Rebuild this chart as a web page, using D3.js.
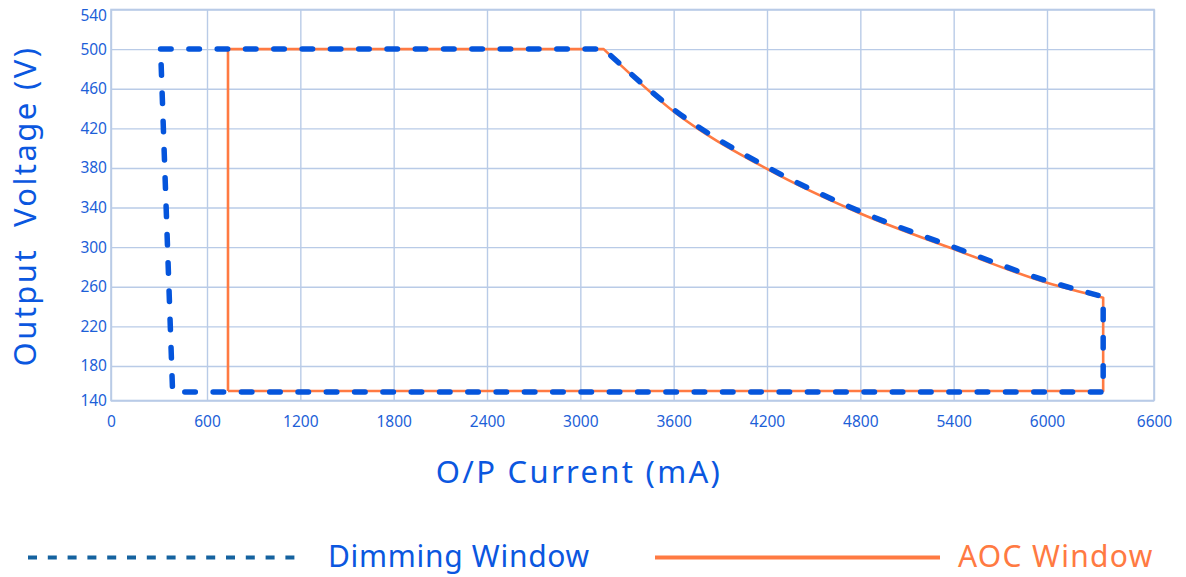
<!doctype html>
<html>
<head>
<meta charset="UTF-8">
<title>Output Voltage vs O/P Current</title>
<script src="https://d3js.org/d3.v7.min.js"></script>
<style>
  body { margin: 0; background: #fff; }
  text { font-family: "Noto Sans", sans-serif; }
</style>
</head>
<body>
<svg id="chart" width="1186" height="577"></svg>
<script>
// tick labels
var xTicks = [0, 600, 1200, 1800, 2400, 3000, 3600, 4200, 4800, 5400, 6000, 6600];
var yTicks = [140, 180, 220, 260, 300, 340, 380, 420, 460, 500, 540];

// Dimming Window (blue dashed): left edge, top, curved part, right edge, bottom
var dimCorners = [[385, 150], [310, 500]];
var dimCurveCurrent = [3150, 3600, 4200, 4800, 5400, 6000, 6315];
var dimCurveVoltage = [500, 439, 381, 336, 300, 266, 250];
var dimBottom = [[6315, 150], [385, 150]];

// AOC Window (orange solid)
var aocCorners = [[735, 151], [735, 500]];
var aocCurveCurrent = [3150, 3600, 4200, 4800, 5400, 6000, 6315];
var aocCurveVoltage = [500, 437, 379, 334, 298, 264, 249];
var aocBottom = [[6315, 151], [735, 151]];

var svg = d3.select("#chart");

// axis is not quite uniform at the ends, so the scales are piecewise
var x = d3.scaleLinear().domain([0, 600, 6000, 6600]).range([111, 207, 1047, 1154]);
var y = d3.scaleLinear().domain([140, 180, 540]).range([400.5, 366, 9.5]);

var gridColor = "#b9cbe7";
var tickColor = "#1d5fd8";

// vertical grid + x labels
var gx = svg.append("g")
  .attr("transform", "translate(0," + y(140) + ")")
  .call(d3.axisBottom(x).tickValues(xTicks).tickSize(-(y(140) - y(540))).tickPadding(15).tickFormat(d3.format("d")));
gx.select(".domain").remove();
gx.selectAll("line").attr("stroke", gridColor).attr("stroke-width", 1.4);
gx.selectAll("text").attr("fill", tickColor).attr("font-size", 15.5);

// horizontal grid + y labels
var gy = svg.append("g")
  .attr("transform", "translate(" + x(0) + ",0)")
  .call(d3.axisLeft(y).tickValues(yTicks).tickSize(-(x(6600) - x(0))).tickPadding(4).tickFormat(d3.format("d")));
gy.select(".domain").remove();
gy.selectAll("line").attr("stroke", gridColor).attr("stroke-width", 1.4);
gy.selectAll("text").attr("fill", tickColor).attr("font-size", 15.5);
// top label sits a little lower so it stays on the page
gy.selectAll(".tick").filter(function(d){ return d === 540; }).select("text").attr("y", 6);

// plot border
svg.append("rect")
  .attr("x", x(0)).attr("y", y(540))
  .attr("width", x(6600) - x(0)).attr("height", y(140) - y(540))
  .attr("fill", "none").attr("stroke", gridColor).attr("stroke-width", 1.6);

var straight = d3.line()
  .x(function(d){ return x(d[0]); })
  .y(function(d){ return y(d[1]); });
var smooth = d3.line()
  .x(function(d){ return x(d[0]); })
  .y(function(d){ return y(d[1]); })
  .curve(d3.curveMonotoneX);

// straight corners, smooth constant-power part, straight back
function windowPath(corners, cx, cy, bottom){
  return straight(corners) +
    smooth(d3.zip(cx, cy)).replace(/^M/, "L") +
    straight(bottom).replace(/^M/, "L");
}

svg.append("path")
  .attr("d", windowPath(aocCorners, aocCurveCurrent, aocCurveVoltage, aocBottom))
  .attr("fill", "none")
  .attr("stroke", "#ff7a42")
  .attr("stroke-width", 2.6)
  .attr("stroke-linejoin", "round");

svg.append("path")
  .attr("d", windowPath(dimCorners.slice(1), dimCurveCurrent, dimCurveVoltage, dimBottom.concat([dimCorners[1]])))
  .attr("fill", "none")
  .attr("stroke", "#0555dc")
  .attr("stroke-width", 5.5)
  .attr("stroke-linecap", "round")
  .attr("stroke-dasharray", "10.5,17.8");

// axis titles
svg.append("text")
  .attr("x", 579).attr("y", 483)
  .attr("text-anchor", "middle")
  .attr("font-size", 31)
  .attr("letter-spacing", 2.3)
  .attr("fill", "#0b57df")
  .text("O/P Current (mA)");

svg.append("text")
  .attr("transform", "translate(36,206) rotate(-90)")
  .attr("text-anchor", "middle")
  .attr("font-size", 31)
  .attr("letter-spacing", 2.4)
  .attr("fill", "#0b57df")
  .style("white-space", "pre")
  .text("Output  Voltage (V)");

// legend
var legend = svg.append("g");
legend.append("line")
  .attr("x1", 28).attr("x2", 305).attr("y1", 557.5).attr("y2", 557.5)
  .attr("stroke", "#14629f").attr("stroke-width", 4)
  .attr("stroke-dasharray", "9,10.8");
legend.append("text")
  .attr("x", 328).attr("y", 567)
  .attr("font-size", 30)
  .attr("letter-spacing", 0.7)
  .attr("fill", "#0b57df")
  .text("Dimming Window");
legend.append("line")
  .attr("x1", 655).attr("x2", 940).attr("y1", 557.5).attr("y2", 557.5)
  .attr("stroke", "#ff7a42").attr("stroke-width", 4);
legend.append("text")
  .attr("x", 958).attr("y", 567)
  .attr("font-size", 30)
  .attr("letter-spacing", 1.3)
  .attr("fill", "#ff7a42")
  .text("AOC Window");
</script>
</body>
</html>
